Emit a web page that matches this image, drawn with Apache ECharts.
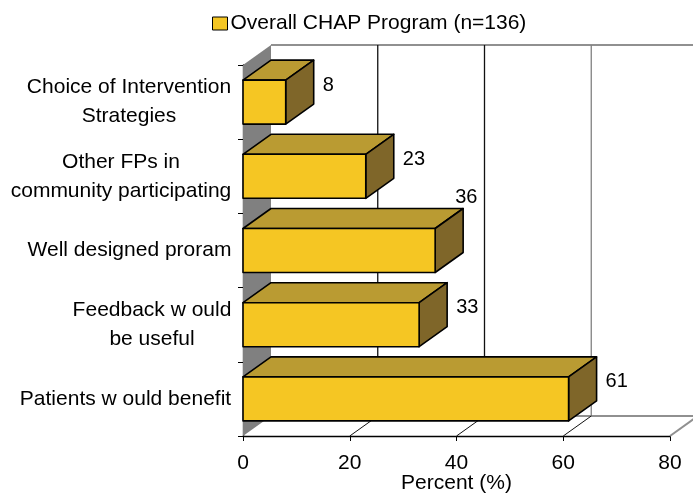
<!DOCTYPE html>
<html><head><meta charset="utf-8">
<script src="https://cdn.jsdelivr.net/npm/echarts@6/dist/echarts.min.js"></script>
<style>html,body{margin:0;padding:0;background:#fff}#c{width:693px;height:495px}</style>
</head><body><div id="c"></div>
<script>
// ---- data ----
const categories = ['Choice of Intervention\nStrategies', 'Other FPs in\ncommunity participating', 'Well designed proram', 'Feedback w ould\nbe useful', 'Patients w ould benefit'];
const values = [8, 23, 36, 33, 61];
const seriesName = 'Overall CHAP Program (n=136)';
const xTicks = [0, 20, 40, 60, 80];
const axisName = 'Percent (%)';

// ---- style ----
const FONT = '"Liberation Sans", Arial, sans-serif';
const DX = 28, DY = -20;
const FRONT = '#F5C623', TOP = '#BA9B32', SIDE = '#7F6629', WALL = '#808080';
const labelAbove = { 2: true };

const cv = document.createElement('canvas').getContext('2d');
cv.font = '21px "Liberation Sans"';
const rich = {};
categories.forEach((c, i) => {
  const w = Math.max(...c.split('\n').map(l => cv.measureText(l).width));
  rich['c' + i] = { width: Math.ceil(w) + 1, align: 'center', fontSize: 21, lineHeight: 29, fontFamily: FONT, color: '#000' };
});

function renderFrame(params, api) {
  const cs = params.coordSys;
  const L = cs.x, T = cs.y, R = cs.x + cs.width, B = cs.y + cs.height;
  const ch = [];
  ch.push({ type: 'polygon', shape: { points: [[L, T], [L + DX, T + DY], [L + DX, B + DY], [L, B]] }, style: { fill: WALL, stroke: null } });
  ch.push({ type: 'line', shape: { x1: L + DX, y1: T + DY, x2: R + DX, y2: T + DY }, style: { stroke: '#909090', lineWidth: 2 } });
  ch.push({ type: 'line', shape: { x1: L + DX, y1: B + DY, x2: R + DX, y2: B + DY }, style: { stroke: '#909090', lineWidth: 2 } });
  ch.push({ type: 'line', shape: { x1: R, y1: B, x2: R + DX, y2: B + DY }, style: { stroke: '#909090', lineWidth: 2 } });
  xTicks.forEach((t, k) => {
    if (t === xTicks[0] || t === xTicks[xTicks.length - 1]) return;
    const x = api.coord([t, 0])[0];
    ch.push({ type: 'line', shape: { x1: x + DX, y1: T + DY, x2: x + DX, y2: B + DY }, style: { stroke: k >= 3 ? '#808080' : '#111', lineWidth: 1.3 } });
    ch.push({ type: 'line', shape: { x1: x, y1: B, x2: x + DX, y2: B + DY }, style: { stroke: '#111', lineWidth: 1 } });
  });
  return { type: 'group', children: ch };
}

function renderBar(params, api) {
  const v = api.value(0), i = api.value(1);
  const p0 = api.coord([0, i]);
  const p1 = api.coord([v, i]);
  const band = api.size([0, 1])[1];
  const h = band * 0.593;
  const yT = p0[1] - h / 2, yB = p0[1] + h / 2;
  const x0 = p0[0], x1 = p1[0];
  const st = { stroke: '#000', lineWidth: 1.6, lineJoin: 'round' };
  const ch = [
    { type: 'polygon', shape: { points: [[x0, yT], [x1, yT], [x1 + DX, yT + DY], [x0 + DX, yT + DY]] }, style: Object.assign({ fill: TOP }, st) },
    { type: 'polygon', shape: { points: [[x1, yT], [x1 + DX, yT + DY], [x1 + DX, yB + DY], [x1, yB]] }, style: Object.assign({ fill: SIDE }, st) },
    { type: 'rect', shape: { x: x0, y: yT, width: x1 - x0, height: h }, style: Object.assign({ fill: FRONT }, st) }
  ];
  let tx, ty;
  if (labelAbove[i]) { tx = x1 + DX - 8; ty = yT + DY - 11; }
  else { tx = x1 + DX + 9; ty = p0[1] + DY + 3; }
  ch.push({ type: 'text', x: tx, y: ty, style: { text: String(values[i]), fill: '#000', font: '20px ' + FONT, textAlign: 'left', textVerticalAlign: 'middle' } });
  return { type: 'group', children: ch };
}

const chart = echarts.init(document.getElementById('c'), null, { renderer: 'canvas' });
chart.setOption({
  animation: false,
  backgroundColor: '#fff',
  legend: {
    data: [{ name: seriesName, icon: 'rect' }],
    left: 207, top: 8, itemWidth: 15, itemHeight: 13, itemGap: 5,
    textStyle: { fontSize: 21, fontFamily: FONT, color: '#000', padding: [0, 0, 0, -2] },
    itemStyle: { borderColor: '#000', borderWidth: 1 }
  },
  grid: { left: 243, right: 23, top: 65, bottom: 59, containLabel: false, outerBoundsMode: 'none' },
  xAxis: {
    type: 'value', min: xTicks[0], max: xTicks[xTicks.length - 1], interval: 20,
    axisLine: { show: true, lineStyle: { color: '#000', width: 1.3 } },
    axisTick: { show: true, length: 5, lineStyle: { color: '#000' } },
    axisLabel: { fontSize: 21, fontFamily: FONT, color: '#000', margin: 17 },
    splitLine: { show: false },
    name: axisName, nameLocation: 'middle', nameGap: 37, nameMoveOverlap: false,
    nameTextStyle: { fontSize: 21, fontFamily: FONT, color: '#000' }
  },
  yAxis: {
    type: 'category', data: categories, inverse: true,
    axisLine: { show: true, lineStyle: { color: '#000', width: 1.3 } },
    axisTick: { show: true, length: 5, lineStyle: { color: '#000' } },
    axisLabel: {
      interval: 0, margin: 11,
      formatter: (val, idx) => val.split('\n').map(l => '{c' + idx + '|' + l + '}').join('\n'),
      rich: rich
    },
    splitLine: { show: false }
  },
  series: [
    { type: 'custom', name: 'frame', renderItem: renderFrame, data: [[0, 0]], encode: { x: 0, y: 1 }, silent: true, z: 1 },
    { type: 'custom', name: seriesName, renderItem: renderBar, itemStyle: { color: FRONT },
      data: values.map((v, i) => [v, i]), encode: { x: 0, y: 1 }, z: 2 }
  ]
});
</script>
</body></html>
